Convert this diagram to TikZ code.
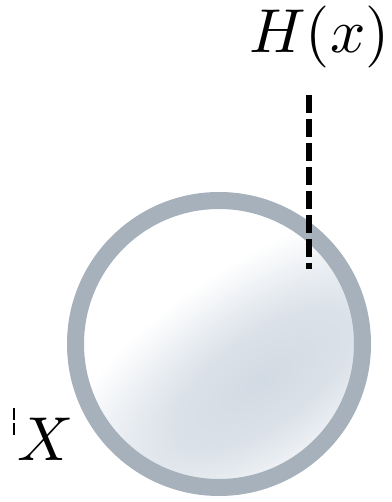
\documentclass[tikz,border=0pt]{standalone}
\usepackage{tikz}
\usetikzlibrary{positioning}
\definecolor{ringgray}{RGB}{166,177,187}
\definecolor{blobblue}{RGB}{210,218,227}
\pgfdeclareradialshading{blob}{\pgfpoint{0bp}{0bp}}{%
  color(0bp)=(blobblue); color(10bp)=(blobblue!80!white);
  color(25bp)=(white); color(50bp)=(white)}
\tikzset{>=stealth}
\tikzset{lbl/.style={scale=6.2, anchor=base}}
\begin{document}
\begin{tikzpicture}[x=1pt,y=1pt]
  \useasboundingbox (0,0) rectangle (391,502);
  \coordinate (C) at (219,158);
  % soft shading inside the ball
  \begin{scope}
    \clip (C) circle (143.5);
    \begin{scope}[transform canvas={rotate around={35:(262,122)}}]
      \shade[shading=blob] (262,122) ellipse (260 and 115);
    \end{scope}
  \end{scope}
  \draw[ringgray, line width=17pt] (C) circle (143.5);
  % cut at H(x)
  \coordinate (T) at (309,407);
  \coordinate (B) at (309,233);
  \draw[line width=6pt, dash pattern=on 18pt off 6pt] (T) -- (B);
  \node[lbl] (H) at (319.5,449) {$H(x)$};
  \node[lbl] (X) at (46,42) {$X$};
  \coordinate (Ta) at (14,94);
  \coordinate (Tb) at (14,67);
  \draw[line width=1.5pt, dash pattern=on 12pt off 3pt] (Ta) -- (Tb);
\end{tikzpicture}
\end{document}
